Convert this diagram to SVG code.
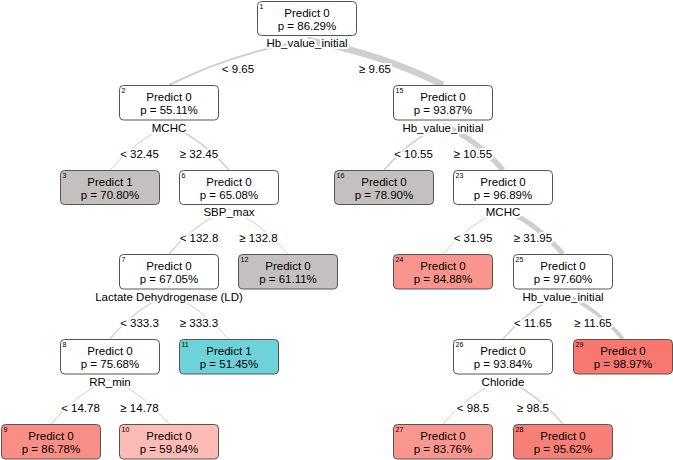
<svg xmlns="http://www.w3.org/2000/svg" width="673" height="460" viewBox="0 0 673 460">
<style>
.bg{fill:#fff}
.box{stroke:#555;stroke-width:1}
.w{fill:#fff}.g{fill:#c4c0bf}.c{fill:#6ed2da}
.t{font-family:"Liberation Sans",Arial,sans-serif;font-size:11.5px;fill:#000;text-anchor:middle}
.lab{paint-order:stroke;stroke:#fff;stroke-width:4px;stroke-linejoin:round}
.num{font-family:"Liberation Sans",Arial,sans-serif;font-size:7px;fill:#000}
.e{fill:none;stroke:#cfcfcf;stroke-linecap:butt}
</style>
<rect class="bg" x="0" y="0" width="673" height="460"/>
<g id="connectors">
<path class="e" stroke-width="2" d="M307,40 Q231,54 169,85"/>
<path class="e" stroke-width="6.5" d="M307,40 Q382,54 443,85"/>
<path class="e" stroke-width="1" d="M169,125 Q136.5,139 110,170"/>
<path class="e" stroke-width="1.5" d="M169,125 Q201.5,139 229,170"/>
<path class="e" stroke-width="1.5" d="M443,125 Q410.5,139 384,170"/>
<path class="e" stroke-width="5.5" d="M443,125 Q476,139 503,170"/>
<path class="e" stroke-width="1.2" d="M229,209 Q196,222.5 169,254"/>
<path class="e" stroke-width="1" d="M229,209 Q261.5,222.5 288,254"/>
<path class="e" stroke-width="1" d="M503,209 Q470,222.5 443,254"/>
<path class="e" stroke-width="5" d="M503,209 Q536,222.5 563,254"/>
<path class="e" stroke-width="1.2" d="M169,294 Q136.5,307.5 110,339"/>
<path class="e" stroke-width="1" d="M169,294 Q201.5,307.5 229,339"/>
<path class="e" stroke-width="1.5" d="M563,294 Q530,307.5 503,339"/>
<path class="e" stroke-width="4" d="M563,294 Q596,307.5 623,339"/>
<path class="e" stroke-width="1" d="M110,379 Q77.5,392.5 51,424"/>
<path class="e" stroke-width="1" d="M110,379 Q142.5,392.5 169,424"/>
<path class="e" stroke-width="1" d="M503,379 Q470,392.5 443,424"/>
<path class="e" stroke-width="1.5" d="M503,379 Q536,392.5 563,424"/>
</g>
<g id="edge-labels">
<text class="t lab" x="238" y="73">&lt; 9.65</text>
<text class="t lab" x="375" y="73">≥ 9.65</text>
<text class="t lab" x="139.5" y="157.5">&lt; 32.45</text>
<text class="t lab" x="199" y="157.5">≥ 32.45</text>
<text class="t lab" x="413.5" y="157.5">&lt; 10.55</text>
<text class="t lab" x="473" y="157.5">≥ 10.55</text>
<text class="t lab" x="199" y="242">&lt; 132.8</text>
<text class="t lab" x="258.5" y="242">≥ 132.8</text>
<text class="t lab" x="473" y="242">&lt; 31.95</text>
<text class="t lab" x="533" y="242">≥ 31.95</text>
<text class="t lab" x="139.5" y="326.5">&lt; 333.3</text>
<text class="t lab" x="199" y="326.5">≥ 333.3</text>
<text class="t lab" x="533" y="326.5">&lt; 11.65</text>
<text class="t lab" x="593" y="326.5">≥ 11.65</text>
<text class="t lab" x="80.5" y="411.5">&lt; 14.78</text>
<text class="t lab" x="139.5" y="411.5">≥ 14.78</text>
<text class="t lab" x="473" y="411.5">&lt; 98.5</text>
<text class="t lab" x="533" y="411.5">≥ 98.5</text>
</g>
<g id="node1"><rect class="box w" x="257.5" y="1.5" width="99" height="34" rx="4"/><text class="num" x="259.5" y="9">1</text><text class="t" x="307" y="17">Predict 0</text><text class="t" x="307" y="29.5">p = 86.29%</text><text class="t lab" x="307" y="47">Hb_value_initial</text></g>
<g id="node2"><rect class="box w" x="119.5" y="85.5" width="99" height="34.5" rx="4"/><text class="num" x="121.5" y="93">2</text><text class="t" x="169" y="101">Predict 0</text><text class="t" x="169" y="113.5">p = 55.11%</text><text class="t lab" x="169" y="131.5">MCHC</text></g>
<g id="node15"><rect class="box w" x="393.5" y="85.5" width="99" height="34.5" rx="4"/><text class="num" x="395.5" y="93">15</text><text class="t" x="443" y="101">Predict 0</text><text class="t" x="443" y="113.5">p = 93.87%</text><text class="t lab" x="443" y="131.5">Hb_value_initial</text></g>
<g id="node3"><rect class="box g" x="60.5" y="170.5" width="99" height="34" rx="4"/><text class="num" x="62.5" y="178">3</text><text class="t" x="110" y="186">Predict 1</text><text class="t" x="110" y="198.5">p = 70.80%</text></g>
<g id="node6"><rect class="box w" x="179.5" y="170.5" width="99" height="34" rx="4"/><text class="num" x="181.5" y="178">6</text><text class="t" x="229" y="186">Predict 0</text><text class="t" x="229" y="198.5">p = 65.08%</text><text class="t lab" x="229" y="216">SBP_max</text></g>
<g id="node16"><rect class="box g" x="334.5" y="170.5" width="99" height="34" rx="4"/><text class="num" x="336.5" y="178">16</text><text class="t" x="384" y="186">Predict 0</text><text class="t" x="384" y="198.5">p = 78.90%</text></g>
<g id="node23"><rect class="box w" x="453.5" y="170.5" width="99" height="34" rx="4"/><text class="num" x="455.5" y="178">23</text><text class="t" x="503" y="186">Predict 0</text><text class="t" x="503" y="198.5">p = 96.89%</text><text class="t lab" x="503" y="216">MCHC</text></g>
<g id="node7"><rect class="box w" x="119.5" y="254.5" width="99" height="34.5" rx="4"/><text class="num" x="121.5" y="262">7</text><text class="t" x="169" y="270">Predict 0</text><text class="t" x="169" y="282.5">p = 67.05%</text><text class="t lab" x="169" y="300.5">Lactate Dehydrogenase (LD)</text></g>
<g id="node12"><rect class="box g" x="238.5" y="254.5" width="99" height="34.5" rx="4"/><text class="num" x="240.5" y="262">12</text><text class="t" x="288" y="270">Predict 0</text><text class="t" x="288" y="282.5">p = 61.11%</text></g>
<g id="node24"><rect class="box" fill="#f9958c" x="393.5" y="254.5" width="99" height="34.5" rx="4"/><text class="num" x="395.5" y="262">24</text><text class="t" x="443" y="270">Predict 0</text><text class="t" x="443" y="282.5">p = 84.88%</text></g>
<g id="node25"><rect class="box w" x="513.5" y="254.5" width="99" height="34.5" rx="4"/><text class="num" x="515.5" y="262">25</text><text class="t" x="563" y="270">Predict 0</text><text class="t" x="563" y="282.5">p = 97.60%</text><text class="t lab" x="563" y="300.5">Hb_value_initial</text></g>
<g id="node8"><rect class="box w" x="60.5" y="339.5" width="99" height="34.5" rx="4"/><text class="num" x="62.5" y="347">8</text><text class="t" x="110" y="355">Predict 0</text><text class="t" x="110" y="367.5">p = 75.68%</text><text class="t lab" x="110" y="385.5">RR_min</text></g>
<g id="node11"><rect class="box c" x="179.5" y="339.5" width="99" height="34.5" rx="4"/><text class="num" x="181.5" y="347">11</text><text class="t" x="229" y="355">Predict 1</text><text class="t" x="229" y="367.5">p = 51.45%</text></g>
<g id="node26"><rect class="box w" x="453.5" y="339.5" width="99" height="34.5" rx="4"/><text class="num" x="455.5" y="347">26</text><text class="t" x="503" y="355">Predict 0</text><text class="t" x="503" y="367.5">p = 93.84%</text><text class="t lab" x="503" y="385.5">Chloride</text></g>
<g id="node29"><rect class="box" fill="#f8776e" x="573.5" y="339.5" width="99" height="34.5" rx="4"/><text class="num" x="575.5" y="347">29</text><text class="t" x="623" y="355">Predict 0</text><text class="t" x="623" y="367.5">p = 98.97%</text></g>
<g id="node9"><rect class="box" fill="#f98e85" x="1.5" y="424.5" width="99" height="34.5" rx="4"/><text class="num" x="3.5" y="432">9</text><text class="t" x="51" y="440">Predict 0</text><text class="t" x="51" y="452.5">p = 86.78%</text></g>
<g id="node10"><rect class="box" fill="#fcbbb5" x="119.5" y="424.5" width="99" height="34.5" rx="4"/><text class="num" x="121.5" y="432">10</text><text class="t" x="169" y="440">Predict 0</text><text class="t" x="169" y="452.5">p = 59.84%</text></g>
<g id="node27"><rect class="box" fill="#f9978f" x="393.5" y="424.5" width="99" height="34.5" rx="4"/><text class="num" x="395.5" y="432">27</text><text class="t" x="443" y="440">Predict 0</text><text class="t" x="443" y="452.5">p = 83.76%</text></g>
<g id="node28"><rect class="box" fill="#f87f75" x="513.5" y="424.5" width="99" height="34.5" rx="4"/><text class="num" x="515.5" y="432">28</text><text class="t" x="563" y="440">Predict 0</text><text class="t" x="563" y="452.5">p = 95.62%</text></g>
</svg>
